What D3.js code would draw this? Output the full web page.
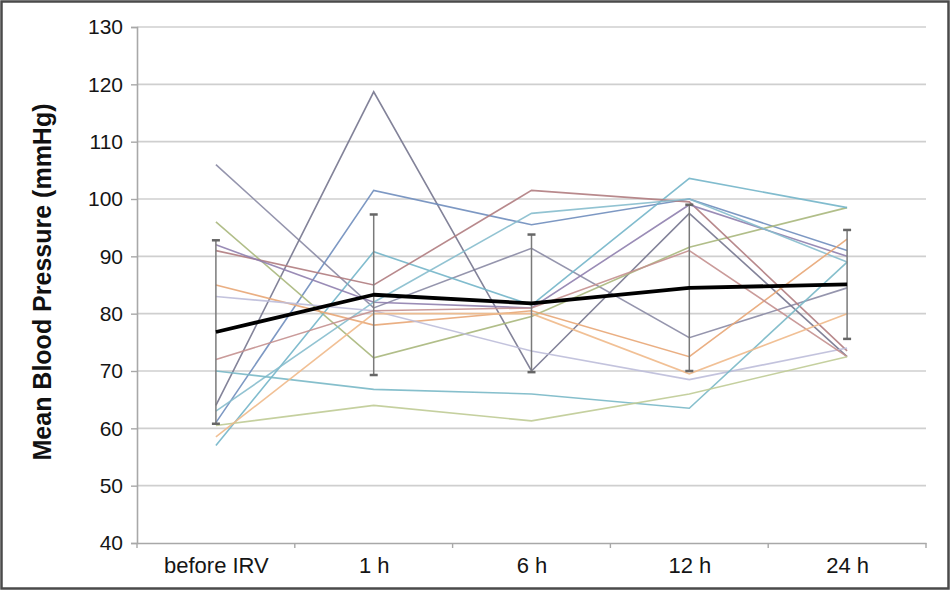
<!DOCTYPE html>
<html>
<head>
<meta charset="utf-8">
<script src="https://cdn.jsdelivr.net/npm/d3@7"></script>
<style>
  html, body { margin: 0; padding: 0; background: #fff; }
  svg { display: block; }
  text { font-family: "Liberation Sans", Arial, sans-serif; }
</style>
</head>
<body>
<svg id="chart" width="950" height="591"></svg>
<script>
// ---- data ----
const categories = ["before IRV", "1 h", "6 h", "12 h", "24 h"];
const yTicks = [40, 50, 60, 70, 80, 90, 100, 110, 120, 130];

const patient01 = [106, 81, 91.4, 75.8, 84.5];
const patient02 = [64, 118.7, 70, 97.5, 72.5];
const patient03 = [61, 101.5, 95.5, 100, 91];
const patient04 = [96, 72.3, 79.5, 91.6, 98.5];
const patient05 = [57, 90.8, 81.5, 103.6, 98.5];
const patient06 = [91, 85, 101.5, 99.5, 73.5];
const patient07 = [92, 82, 81, 99, 90];
const patient08 = [63, 82, 97.5, 100, 89];
const patient09 = [85, 78, 80.5, 72.5, 93];
const patient10 = [83, 80.5, 73.5, 68.5, 74];
const patient11 = [72, 80.5, 81, 91, 72.5];
const patient12 = [70, 66.8, 66, 63.5, 89];
const patient13 = [60.5, 64, 61.3, 66, 72.5];
const patient14 = [58.5, 80, 80, 69.5, 80];

const meanValues = [76.8, 83.3, 81.8, 84.5, 85.1];
const errorValues = [16, 14, 12, 14.5, 9.5];

const patients = [patient01, patient02, patient03, patient04, patient05, patient06, patient07,
                  patient08, patient09, patient10, patient11, patient12, patient13, patient14];
const patientColors = ["#8a8aa4", "#76768e", "#6f8dbd", "#a8b77c", "#73b5c9", "#b07c80", "#8f7fae",
                       "#86bccd", "#e8a675", "#bdbcd9", "#c4908f", "#79b8c7", "#bfcb95", "#f0b98a"];

// ---- layout ----
const svg = d3.select("#chart");
const W = 950, H = 591;
const mLeft = 137, mRight = 926, mTop = 27, mBottom = 543;

const x = d3.scalePoint().domain(categories).range([mLeft, mRight]).padding(0.5);
const xBand = d3.scaleBand().domain(categories).range([mLeft, mRight]);
const y = d3.scaleLinear().domain([40, 130]).range([mBottom, mTop]);

svg.append("rect").attr("x", 0).attr("y", 0).attr("width", W).attr("height", H).attr("fill", "#fff");

// gridlines
svg.append("g").selectAll("line").data(yTicks.filter(d => d > 40)).join("line")
  .attr("x1", mLeft).attr("x2", mRight)
  .attr("y1", d => y(d)).attr("y2", d => y(d))
  .attr("stroke", "#cfcfcf").attr("stroke-width", 1.6);

// y axis
const yAxis = svg.append("g").attr("transform", `translate(${mLeft},0)`)
  .call(d3.axisLeft(y).tickValues(yTicks).tickSize(6).tickPadding(8));
yAxis.select(".domain").attr("stroke", "#a8a8a8").attr("stroke-width", 1.6);
yAxis.selectAll(".tick line").attr("stroke", "#a8a8a8").attr("stroke-width", 1.4);
yAxis.selectAll(".tick text").attr("fill", "#151515").style("font-size", "21px")
  .style("font-family", "'Liberation Sans', Arial, sans-serif");

// x axis
const xAxis = svg.append("g").attr("transform", `translate(0,${mBottom})`)
  .call(d3.axisBottom(x).tickSize(0).tickPadding(14));
xAxis.select(".domain").attr("stroke", "#a8a8a8").attr("stroke-width", 1.6);
xAxis.selectAll(".tick text").attr("fill", "#151515").style("font-size", "22px")
  .style("font-family", "'Liberation Sans', Arial, sans-serif");
// category separator ticks
svg.append("g").selectAll("line").data(categories).join("line")
  .attr("x1", d => xBand(d)).attr("x2", d => xBand(d))
  .attr("y1", mBottom).attr("y2", mBottom + 5)
  .attr("stroke", "#a8a8a8").attr("stroke-width", 1.4);
svg.append("line").attr("x1", mRight).attr("x2", mRight).attr("y1", mBottom).attr("y2", mBottom + 5)
  .attr("stroke", "#a8a8a8").attr("stroke-width", 1.4);

// y title
svg.append("text")
  .attr("transform", `translate(51,282) rotate(-90)`)
  .attr("text-anchor", "middle")
  .style("font-size", "25px").style("font-weight", "bold").attr("fill", "#111")
  .text("Mean Blood Pressure (mmHg)");

// patient lines
const line = d3.line().x((d, i) => x(categories[i])).y(d => y(d));
svg.append("g").selectAll("path").data(patients).join("path")
  .attr("d", line)
  .attr("fill", "none")
  .attr("stroke", (d, i) => patientColors[i])
  .attr("stroke-width", 1.6)
  .attr("stroke-opacity", 0.9);

// error bars
const eb = svg.append("g");
meanValues.forEach((m, i) => {
  const cx = x(categories[i]);
  eb.append("line").attr("x1", cx).attr("x2", cx)
    .attr("y1", y(m - errorValues[i])).attr("y2", y(m + errorValues[i]))
    .attr("stroke", "#7a7a7a").attr("stroke-width", 1.5);
  [m - errorValues[i], m + errorValues[i]].forEach(v => {
    eb.append("line").attr("x1", cx - 4).attr("x2", cx + 4)
      .attr("y1", y(v)).attr("y2", y(v))
      .attr("stroke", "#666").attr("stroke-width", 2.5);
  });
});

// mean line
svg.append("path").datum(meanValues)
  .attr("d", line).attr("fill", "none")
  .attr("stroke", "#000").attr("stroke-width", 3.8).attr("stroke-linejoin", "round");

// outer frame
svg.append("rect").attr("x", 1.5).attr("y", 1.5).attr("width", W - 3).attr("height", H - 4)
  .attr("fill", "none").attr("stroke", "#4a4a4a").attr("stroke-width", 2.5);
</script>
</body>
</html>
